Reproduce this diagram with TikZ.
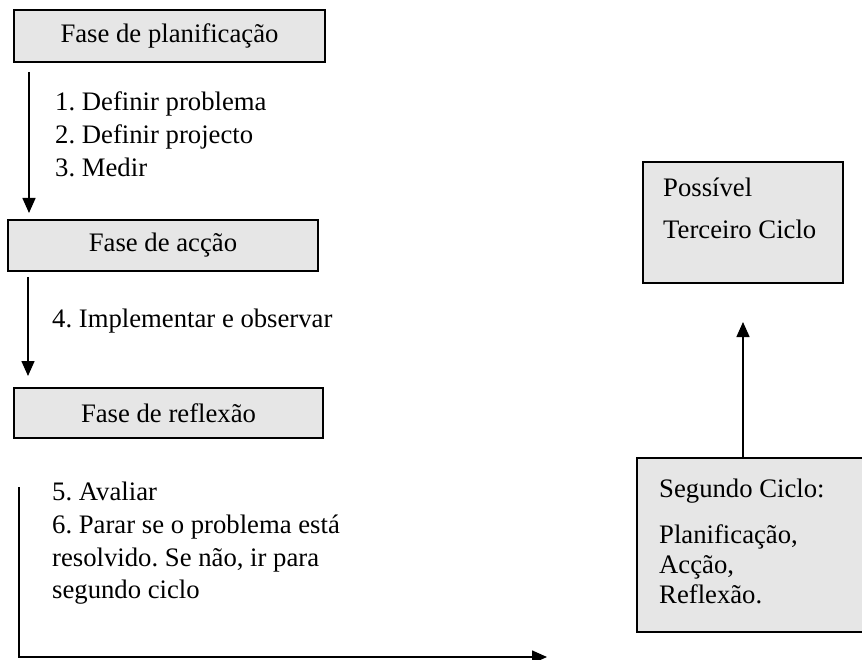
\documentclass[tikz,border=0pt]{standalone}
\usepackage{fontspec}
\setmainfont{Liberation Serif}
\usetikzlibrary{arrows.meta}
\definecolor{boxgray}{RGB}{230,230,230}
\frenchspacing
\tikzset{
  phase/.style={draw=black, line width=1.7pt, fill=boxgray, inner sep=0pt,
    font=\fontsize{26.7}{33}\selectfont},
  txt/.style={anchor=base west, inner sep=0pt, font=\fontsize{26.7}{33}\selectfont},
  arr/.style={line width=1.5pt, -{Triangle[length=15pt,width=13pt]}},
}
\begin{document}
\begin{tikzpicture}[x=1pt,y=-1pt]
\clip (0,0) rectangle (862,660);
\fill[white] (0,0) rectangle (862,660);
% left column boxes
\node[phase, minimum width=311pt, minimum height=52pt] (b1) at (169.5,36) {Fase de planificação};
\node[phase, minimum width=310pt, minimum height=51pt] (b2) at (163,245.5) {Fase de acção};
\node[phase, minimum width=309pt, minimum height=50pt] (b3) at (168.5,413) {Fase de reflexão};
% list texts
\node[txt] (l1) at (55,111) {1. Definir problema};
\node[txt] (l2) at (55,144) {2. Definir projecto};
\node[txt] (l3) at (55,177) {3. Medir};
\node[txt] (l4) at (52,327) {4. Implementar e observar};
\node[txt] (l5) at (52,500) {5. Avaliar};
\node[txt] (l6) at (52,533) {6. Parar se o problema está};
\node[txt] (l7) at (52,566) {resolvido. Se não, ir para};
\node[txt] (l8) at (52,598) {segundo ciclo};
% right boxes
\draw[draw=black, line width=1.7pt, fill=boxgray] (643,162) rectangle (843,283);
\coordinate (t3) at (743,283);
\node[txt] (t3a) at (663,197) {Possível};
\node[txt] (t3b) at (663,239) {Terceiro Ciclo};
\draw[draw=black, line width=1.7pt, fill=boxgray] (637,458) rectangle (880,632);
\coordinate (s2) at (743,458);
\node[txt] (s2a) at (659,497) {Segundo Ciclo:};
\node[txt] (s2b) at (659,543) {Planificação,};
\node[txt] (s2c) at (659,573) {Acção,};
\node[txt] (s2d) at (659,603) {Reflexão.};
% connectors
\coordinate (a1s) at (29,72);
\coordinate (a1e) at (29,213);
\draw[arr] (a1s) -- (a1e);
\coordinate (a2s) at (28,277);
\coordinate (a2e) at (28,376);
\draw[arr] (a2s) -- (a2e);
\coordinate (a3e) at (743,322);
\draw[arr] (s2) -- (a3e);
\coordinate (ls) at (19,487);
\coordinate (lc) at (19,657);
\coordinate (le) at (547,657);
\draw[arr] (ls) -- (lc) -- (le);
\end{tikzpicture}
\end{document}
